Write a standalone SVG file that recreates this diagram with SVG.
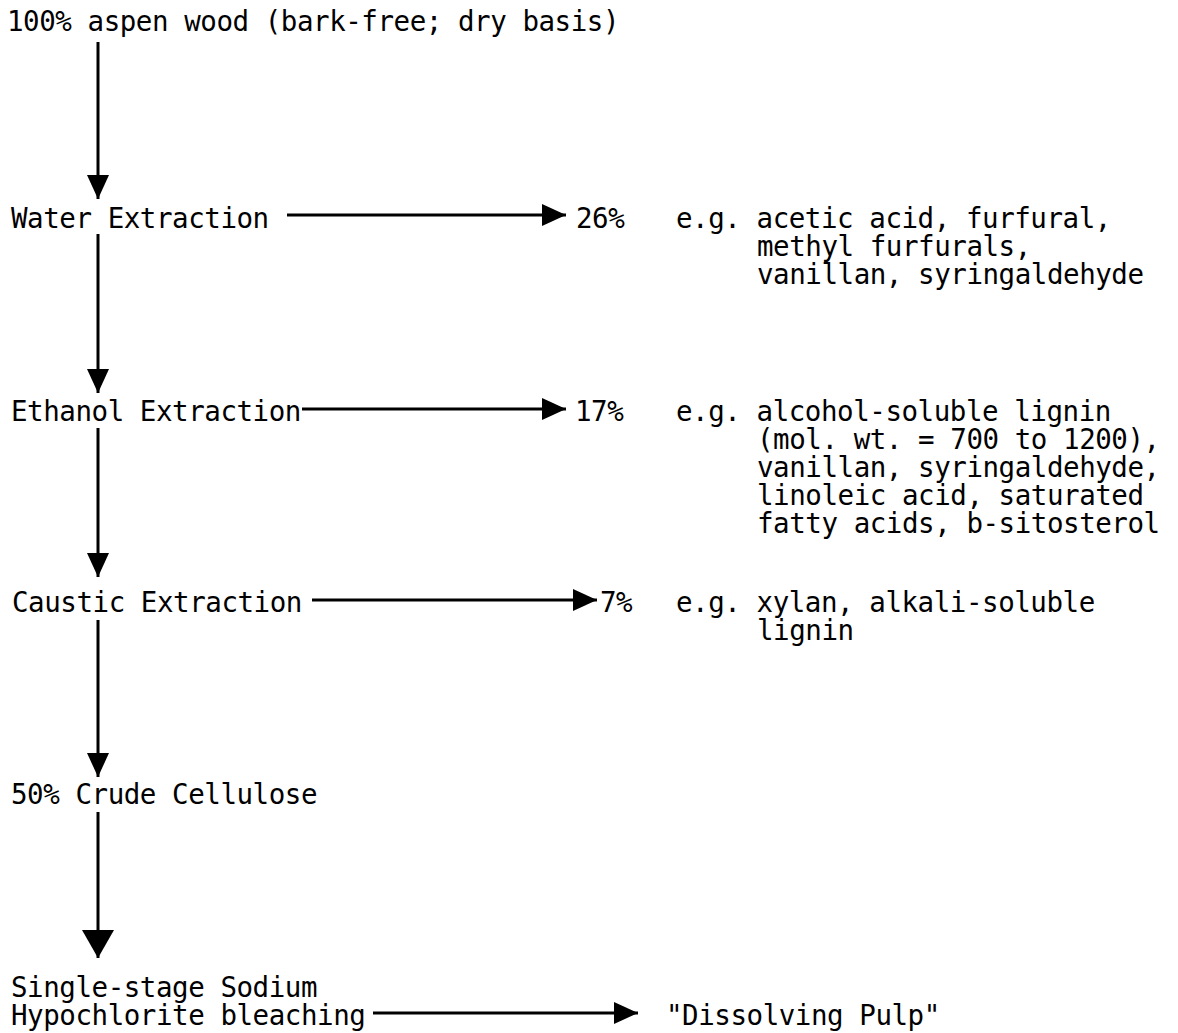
<svg xmlns="http://www.w3.org/2000/svg" width="1178" height="1033" viewBox="0 0 1178 1033">
<style>
text{font-family:"DejaVu Sans Mono","Liberation Mono",monospace;font-size:27.5px;letter-spacing:-0.45px;fill:#000}
.ln{stroke:#000;stroke-width:3;fill:none}
</style>
<defs>
<marker id="ah" markerUnits="userSpaceOnUse" markerWidth="24" markerHeight="22" refX="24" refY="11" orient="auto"><path d="M0,0 L24,11 L0,22 z" fill="#000"/></marker>
<marker id="ahb" markerUnits="userSpaceOnUse" markerWidth="28" markerHeight="32" refX="28" refY="16" orient="auto"><path d="M0,0 L28,16 L0,32 z" fill="#000"/></marker>
</defs>
<rect width="1178" height="1033" fill="#fff"/>
<g id="n-wood"><text x="7" y="31">100% aspen wood (bark-free; dry basis)</text></g>
<g id="n-water"><text x="11" y="228">Water Extraction</text></g>
<g id="n-26"><text x="576" y="228">26%</text></g>
<g id="n-water-products"><text x="676" y="228">e.g. acetic acid, furfural,<tspan x="757" dy="28">methyl furfurals,</tspan><tspan x="757" dy="28">vanillan, syringaldehyde</tspan></text></g>
<g id="n-ethanol"><text x="11" y="421">Ethanol Extraction</text></g>
<g id="n-17"><text x="575" y="421">17%</text></g>
<g id="n-ethanol-products"><text x="676" y="421">e.g. alcohol-soluble lignin<tspan x="757" dy="28">(mol. wt. = 700 to 1200),</tspan><tspan x="757" dy="28">vanillan, syringaldehyde,</tspan><tspan x="757" dy="28">linoleic acid, saturated</tspan><tspan x="757" dy="28">fatty acids, b-sitosterol</tspan></text></g>
<g id="n-caustic"><text x="12" y="612">Caustic Extraction</text></g>
<g id="n-7"><text x="600" y="612">7%</text></g>
<g id="n-caustic-products"><text x="676" y="612">e.g. xylan, alkali-soluble<tspan x="757" dy="28">lignin</tspan></text></g>
<g id="n-cellulose"><text x="11" y="804">50% Crude Cellulose</text></g>
<g id="n-bleach"><text x="11" y="997">Single-stage Sodium<tspan x="11" dy="28">Hypochlorite bleaching</tspan></text></g>
<g id="n-pulp"><text x="666" y="1025">"Dissolving Pulp"</text></g>
<g id="connectors">
<line class="ln" x1="98" y1="42" x2="98" y2="199" marker-end="url(#ah)"/>
<line class="ln" x1="98" y1="234" x2="98" y2="393" marker-end="url(#ah)"/>
<line class="ln" x1="98" y1="428" x2="98" y2="577" marker-end="url(#ah)"/>
<line class="ln" x1="98" y1="620" x2="98" y2="777" marker-end="url(#ah)"/>
<line class="ln" x1="98" y1="812" x2="98" y2="958" marker-end="url(#ahb)"/>
<line class="ln" x1="287" y1="215" x2="566" y2="215" marker-end="url(#ah)"/>
<line class="ln" x1="302" y1="409" x2="566" y2="409" marker-end="url(#ah)"/>
<line class="ln" x1="312" y1="600" x2="597" y2="600" marker-end="url(#ah)"/>
<line class="ln" x1="373" y1="1013" x2="638" y2="1013" marker-end="url(#ah)"/>
</g>
</svg>
